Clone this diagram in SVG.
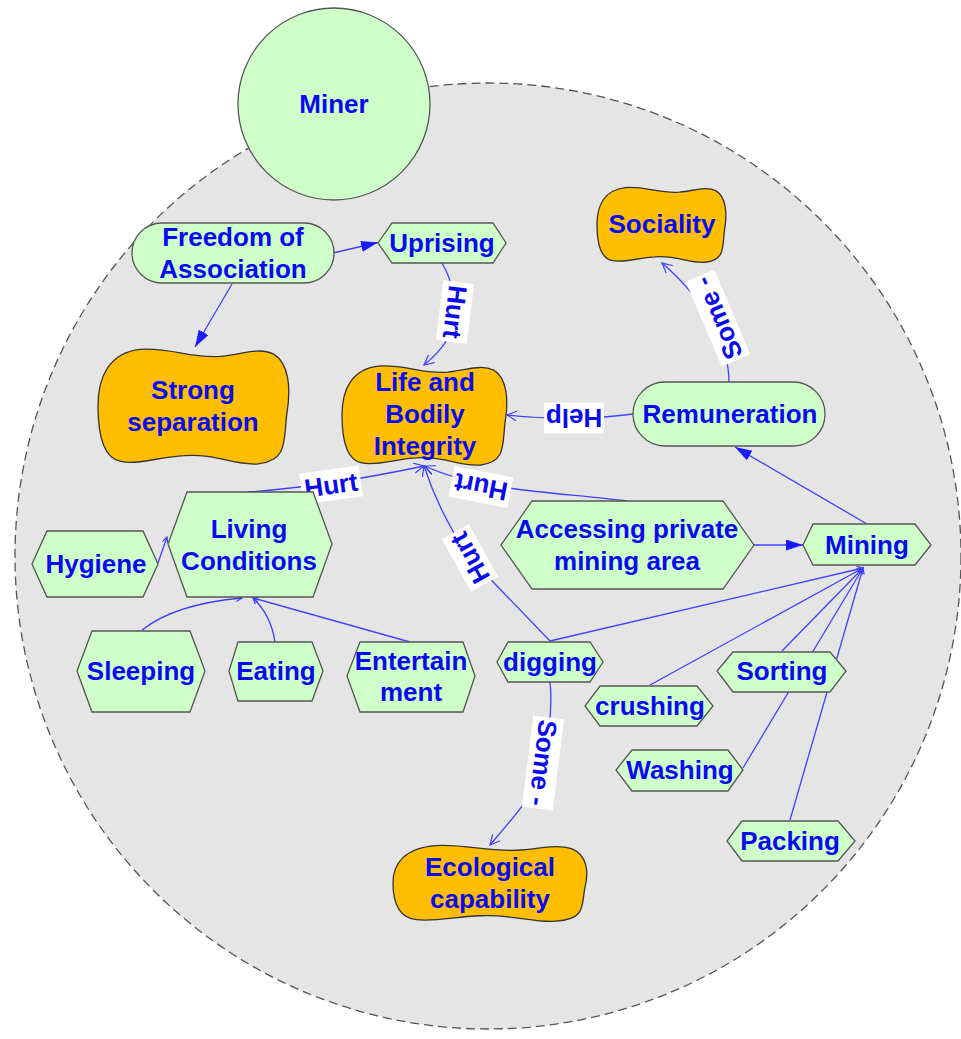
<svg xmlns="http://www.w3.org/2000/svg" width="961" height="1039" viewBox="0 0 961 1039">
<style>
.t{font-family:"Liberation Sans",Arial,sans-serif;font-weight:bold;font-size:26px;fill:#0a0af0;text-anchor:middle;dominant-baseline:central}
.g{fill:#cfffc9;stroke:#555;stroke-width:1.3}
.o{fill:#ffbf00;stroke:#333;stroke-width:1.3}
.c{fill:none;stroke:#4040ff;stroke-width:1.3}
.lb{fill:#fff}
</style>
<defs>
<marker id="af" markerUnits="userSpaceOnUse" markerWidth="18" markerHeight="12" refX="17" refY="5.5" orient="auto"><path d="M0,0 L17,5.5 L0,11 z" fill="#1a1aff"/></marker>
<marker id="ao" markerUnits="userSpaceOnUse" markerWidth="12" markerHeight="12" refX="10" refY="5" orient="auto"><path d="M0,0 L10,5 L0,10" fill="none" stroke="#4040ff" stroke-width="1.2"/></marker>
<marker id="at" markerUnits="userSpaceOnUse" markerWidth="8" markerHeight="8" refX="6" refY="3" orient="auto"><path d="M0,0 L6,3 L0,6" fill="none" stroke="#4040ff" stroke-width="1.2"/></marker>
</defs>
<circle id="boundary" cx="488" cy="556" r="473" fill="#e5e5e5" stroke="#555" stroke-width="1.3" stroke-dasharray="9 5"/>
<g id="miner"><circle cx="334" cy="104" r="96" class="g" stroke="#333"/><text class="t" x="334" y="104">Miner</text></g>
<g id="connectors">
<path class="c" d="M333,253 L378,242.5" marker-end="url(#af)"/>
<path class="c" d="M232,284 L195,347" marker-end="url(#af)"/>
<path class="c" d="M442,263 C452,280 456,300 455,315 C454,335 440,352 424,365" marker-end="url(#ao)"/>
<path class="c" d="M729,382 C729,345 705,300 662,263" marker-end="url(#ao)"/>
<path class="c" d="M633,414 Q575,422 507,415" marker-end="url(#ao)"/>
<path class="c" d="M867,524 L735,447" marker-end="url(#af)"/>
<path class="c" d="M754,545 L803,545" marker-end="url(#af)"/>
<path class="c" d="M627,501 C560,492 480,492 425,466" marker-end="url(#ao)"/>
<path class="c" d="M248,492 Q330,486 424,466" marker-end="url(#ao)"/>
<path class="c" d="M550,641 L470,558 Q440,515 424,466" marker-end="url(#ao)"/>
<path class="c" d="M550,682 C553,710 548,740 543,763 C538,790 520,810 490,845" marker-end="url(#ao)"/>
<path class="c" d="M158,563 L167,537" marker-end="url(#at)"/>
<path class="c" d="M142,630 Q175,604 242,598" marker-end="url(#at)"/>
<path class="c" d="M275,642 Q271,615 253,598" marker-end="url(#at)"/>
<path class="c" d="M410,642 L253,598" marker-end="url(#at)"/>
<path class="c" d="M550,641 L863,568" marker-end="url(#at)"/>
<path class="c" d="M650,685 L863,568" marker-end="url(#at)"/>
<path class="c" d="M782,651 L863,568" marker-end="url(#at)"/>
<path class="c" d="M743,768 L863,568" marker-end="url(#at)"/>
<path class="c" d="M790,820 L863,568" marker-end="url(#at)"/>
<g transform="translate(455,312) rotate(97)"><rect class="lb" x="-30" y="-15.5" width="60" height="31"/><text class="t" x="0" y="0">Hurt</text></g>
<g transform="translate(331,485) rotate(-8)"><rect class="lb" x="-30" y="-15.5" width="60" height="31"/><text class="t" x="0" y="0">Hurt</text></g>
<g transform="translate(481,487) rotate(191)"><rect class="lb" x="-30" y="-15.5" width="60" height="31"/><text class="t" x="0" y="0">Hurt</text></g>
<g transform="translate(470,558) rotate(-119)"><rect class="lb" x="-30" y="-15.5" width="60" height="31"/><text class="t" x="0" y="0">Hurt</text></g>
<g transform="translate(574,418) rotate(180)"><rect class="lb" x="-30" y="-15.5" width="60" height="31"/><text class="t" x="0" y="0">Help</text></g>
<g transform="translate(718,318) rotate(-113)"><rect class="lb" x="-46" y="-15.5" width="92" height="31"/><text class="t" x="0" y="0">Some -</text></g>
<g transform="translate(543,763) rotate(97)"><rect class="lb" x="-46" y="-15.5" width="92" height="31"/><text class="t" x="0" y="0">Some -</text></g>
</g>
<g id="freedom"><rect class="g" x="132" y="223" width="202" height="60" rx="30"/><text class="t" x="233" y="237">Freedom of</text><text class="t" x="233" y="269">Association</text></g>
<g id="uprising"><polygon class="g" points="392,223 493,223 506,243 493,263 392,263 378,243"/><text class="t" x="442" y="243">Uprising</text></g>
<g id="strong"><path class="o" vector-effect="non-scaling-stroke" transform="translate(98,347) scale(191,118)" d="M0.22,0.02 C0.38,0 0.48,0.10 0.64,0.08 C0.76,0.06 0.84,0 0.92,0.06 C1,0.14 1.01,0.35 0.99,0.55 C0.97,0.78 1,0.96 0.84,0.99 C0.72,1.01 0.62,0.90 0.45,0.92 C0.32,0.93 0.22,1 0.12,0.97 C0.02,0.94 0,0.72 0,0.50 C0,0.25 0.06,0.05 0.22,0.02 Z"/><text class="t" x="193" y="390">Strong</text><text class="t" x="193" y="422">separation</text></g>
<g id="life"><path class="o" vector-effect="non-scaling-stroke" transform="translate(342,364) scale(165,102)" d="M0.22,0.02 C0.38,0 0.48,0.10 0.64,0.08 C0.76,0.06 0.84,0 0.92,0.06 C1,0.14 1.01,0.35 0.99,0.55 C0.97,0.78 1,0.96 0.84,0.99 C0.72,1.01 0.62,0.90 0.45,0.92 C0.32,0.93 0.22,1 0.12,0.97 C0.02,0.94 0,0.72 0,0.50 C0,0.25 0.06,0.05 0.22,0.02 Z"/><text class="t" x="425" y="382">Life and</text><text class="t" x="425" y="414">Bodily</text><text class="t" x="425" y="446">Integrity</text></g>
<g id="sociality"><path class="o" vector-effect="non-scaling-stroke" transform="translate(597,186) scale(129,77)" d="M0.22,0.02 C0.38,0 0.48,0.10 0.64,0.08 C0.76,0.06 0.84,0 0.92,0.06 C1,0.14 1.01,0.35 0.99,0.55 C0.97,0.78 1,0.96 0.84,0.99 C0.72,1.01 0.62,0.90 0.45,0.92 C0.32,0.93 0.22,1 0.12,0.97 C0.02,0.94 0,0.72 0,0.50 C0,0.25 0.06,0.05 0.22,0.02 Z"/><text class="t" x="662" y="224">Sociality</text></g>
<g id="remuneration"><rect class="g" x="633" y="382" width="192" height="64" rx="32"/><text class="t" x="730" y="414">Remuneration</text></g>
<g id="living"><polygon class="g" points="187,492 313,492 332,544 313,597 187,597 168,544"/><text class="t" x="249" y="529">Living</text><text class="t" x="249" y="561">Conditions</text></g>
<g id="hygiene"><polygon class="g" points="47,531 143,531 158,564 143,597 47,597 32,564"/><text class="t" x="96" y="564">Hygiene</text></g>
<g id="sleeping"><polygon class="g" points="92,631 190,631 205,671 190,712 92,712 77,671"/><text class="t" x="141" y="671">Sleeping</text></g>
<g id="eating"><polygon class="g" points="238,642 312,642 323,671 312,701 238,701 229,671"/><text class="t" x="276" y="671">Eating</text></g>
<g id="entertainment"><polygon class="g" points="360,642 463,642 475,676 463,712 360,712 347,676"/><text class="t" x="411" y="661">Entertain</text><text class="t" x="411" y="692">ment</text></g>
<g id="accessing"><polygon class="g" points="532,501 723,501 754,545 723,589 532,589 501,545"/><text class="t" x="627" y="529">Accessing private</text><text class="t" x="627" y="561">mining area</text></g>
<g id="mining"><polygon class="g" points="813,524 915,524 931,545 915,565 813,565 803,545"/><text class="t" x="867" y="545">Mining</text></g>
<g id="digging"><polygon class="g" points="508,642 590,642 603,662 590,682 508,682 497,662"/><text class="t" x="550" y="662">digging</text></g>
<g id="crushing"><polygon class="g" points="600,686 697,686 713,706 697,726 600,726 585,706"/><text class="t" x="650" y="706">crushing</text></g>
<g id="sorting"><polygon class="g" points="733,652 830,652 846,671 830,692 733,692 717,671"/><text class="t" x="782" y="671">Sorting</text></g>
<g id="washing"><polygon class="g" points="632,750 728,750 743,770 728,791 632,791 616,770"/><text class="t" x="680" y="770">Washing</text></g>
<g id="packing"><polygon class="g" points="742,821 838,821 855,841 838,861 742,861 727,841"/><text class="t" x="790" y="841">Packing</text></g>
<g id="ecological"><path class="o" vector-effect="non-scaling-stroke" transform="translate(393,844) scale(194,78)" d="M0.22,0.02 C0.38,0 0.48,0.10 0.64,0.08 C0.76,0.06 0.84,0 0.92,0.06 C1,0.14 1.01,0.35 0.99,0.55 C0.97,0.78 1,0.96 0.84,0.99 C0.72,1.01 0.62,0.90 0.45,0.92 C0.32,0.93 0.22,1 0.12,0.97 C0.02,0.94 0,0.72 0,0.50 C0,0.25 0.06,0.05 0.22,0.02 Z"/><text class="t" x="490" y="867">Ecological</text><text class="t" x="490" y="899">capability</text></g>
</svg>
